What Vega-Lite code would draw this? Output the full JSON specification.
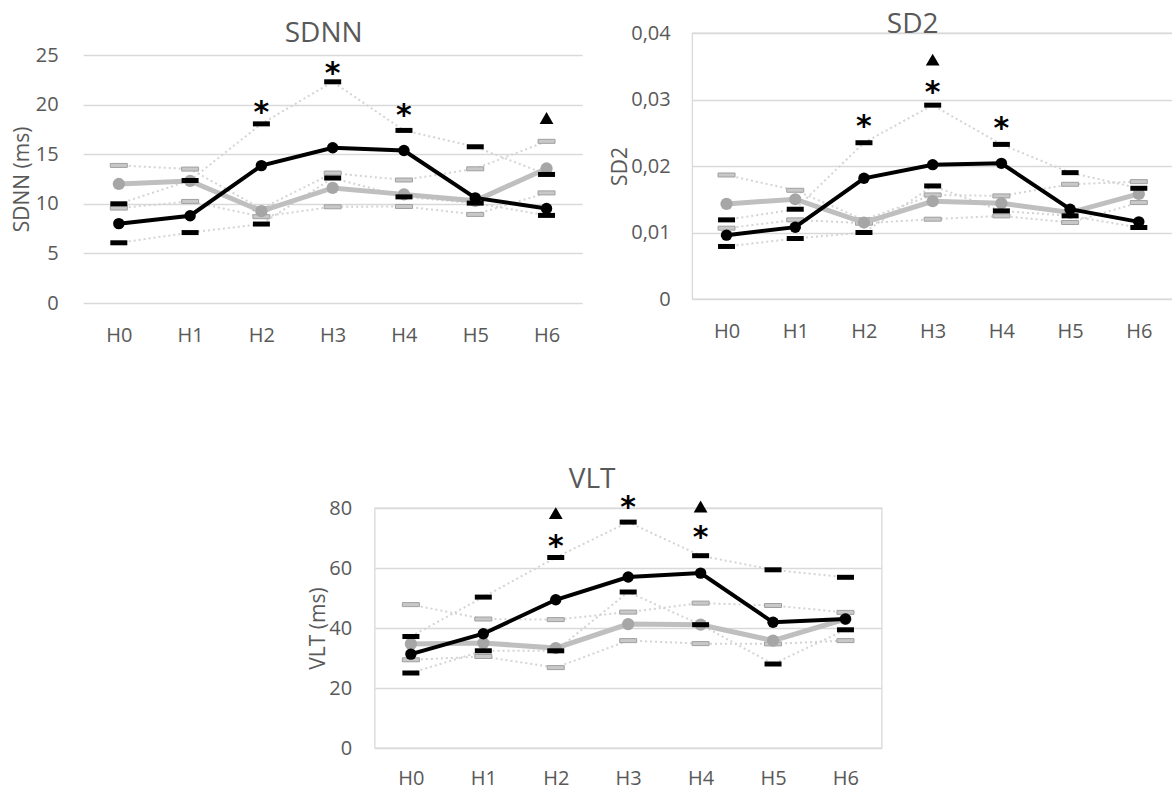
{
  "$schema": "https://vega.github.io/schema/vega-lite/v6.json",
  "background": "white",
  "padding": {"left": 11, "top": 10, "right": 0, "bottom": 0},
  "config": {
    "view": {"stroke": null},
    "font": "Open Sans",
    "axis": {"labelFont": "Open Sans", "titleFont": "Open Sans", "labelColor": "#595959", "titleColor": "#595959", "titleFontWeight": "normal", "labelFontSize": 20, "titleFontSize": 21, "domain": false, "ticks": false, "gridColor": "#d9d9d9", "gridWidth": 1.3},
    "axisX": {"grid": false, "labelAngle": 0, "labelPadding": 22},
    "axisY": {"labelPadding": 24, "titlePadding": 3},
    "title": {"font": "Open Sans", "fontSize": 28, "fontWeight": "normal", "color": "#595959", "anchor": "middle", "frame": "group"}
  },
  "datasets": {
    "main": [
      {"p":"SDNN","h":"H0","black":8.0,"gray":12.0,"bHi":10.0,"bLo":6.07,"gHi":13.87,"gLo":9.57},
      {"p":"SDNN","h":"H1","black":8.8,"gray":12.3,"bHi":12.35,"bLo":7.1,"gHi":13.5,"gLo":10.24},
      {"p":"SDNN","h":"H2","black":13.85,"gray":9.26,"bHi":18.06,"bLo":7.96,"gHi":9.5,"gLo":8.7},
      {"p":"SDNN","h":"H3","black":15.65,"gray":11.6,"bHi":22.3,"bLo":12.6,"gHi":13.1,"gLo":9.7},
      {"p":"SDNN","h":"H4","black":15.37,"gray":10.95,"bHi":17.4,"bLo":10.7,"gHi":12.4,"gLo":9.73},
      {"p":"SDNN","h":"H5","black":10.6,"gray":10.3,"bHi":15.75,"bLo":10.07,"gHi":13.53,"gLo":8.93},
      {"p":"SDNN","h":"H6","black":9.53,"gray":13.56,"bHi":12.96,"bLo":8.83,"gHi":16.3,"gLo":11.1},
      {"p":"SD2","h":"H0","black":0.0096,"gray":0.0143,"bHi":0.0119,"bLo":0.0079,"gHi":0.01865,"gLo":0.01065},
      {"p":"SD2","h":"H1","black":0.0108,"gray":0.0150,"bHi":0.0135,"bLo":0.0091,"gHi":0.01635,"gLo":0.0119},
      {"p":"SD2","h":"H2","black":0.01815,"gray":0.0115,"bHi":0.0235,"bLo":0.0100,"gHi":0.0119,"gLo":0.0114},
      {"p":"SD2","h":"H3","black":0.0202,"gray":0.0147,"bHi":0.02915,"bLo":0.0170,"gHi":0.01565,"gLo":0.0120},
      {"p":"SD2","h":"H4","black":0.0204,"gray":0.0144,"bHi":0.02325,"bLo":0.01325,"gHi":0.0155,"gLo":0.0125},
      {"p":"SD2","h":"H5","black":0.0135,"gray":0.0130,"bHi":0.0190,"bLo":0.0125,"gHi":0.01725,"gLo":0.0115},
      {"p":"SD2","h":"H6","black":0.0116,"gray":0.0158,"bHi":0.01665,"bLo":0.01075,"gHi":0.01765,"gLo":0.0145},
      {"p":"VLT","h":"H0","black":31.3,"gray":34.7,"bHi":37.2,"bLo":25.0,"gHi":47.8,"gLo":29.4},
      {"p":"VLT","h":"H1","black":38.1,"gray":35.0,"bHi":50.3,"bLo":32.4,"gHi":43.0,"gLo":30.5},
      {"p":"VLT","h":"H2","black":49.4,"gray":33.3,"bHi":63.5,"bLo":32.4,"gHi":42.8,"gLo":26.8},
      {"p":"VLT","h":"H3","black":57.0,"gray":41.3,"bHi":75.3,"bLo":52.0,"gHi":45.3,"gLo":35.8},
      {"p":"VLT","h":"H4","black":58.3,"gray":41.1,"bHi":64.1,"bLo":41.1,"gHi":48.3,"gLo":34.8},
      {"p":"VLT","h":"H5","black":41.9,"gray":35.8,"bHi":59.4,"bLo":28.0,"gHi":47.5,"gLo":34.7},
      {"p":"VLT","h":"H6","black":43.0,"gray":43.0,"bHi":56.9,"bLo":39.4,"gHi":45.2,"gLo":35.8}
    ],
    "ann": [
      {"p":"SDNN","h":"H2","s":"ast","v":20.0},
      {"p":"SDNN","h":"H3","s":"ast","v":23.9},
      {"p":"SDNN","h":"H4","s":"ast","v":19.7},
      {"p":"SDNN","h":"H6","s":"tri","v":18.66},
      {"p":"SD2","h":"H2","s":"ast","v":0.027},
      {"p":"SD2","h":"H3","s":"ast","v":0.03225},
      {"p":"SD2","h":"H4","s":"ast","v":0.02675},
      {"p":"SD2","h":"H3","s":"tri","v":0.036},
      {"p":"VLT","h":"H2","s":"ast","v":69.7},
      {"p":"VLT","h":"H3","s":"ast","v":82.8},
      {"p":"VLT","h":"H4","s":"ast","v":72.8},
      {"p":"VLT","h":"H2","s":"tri","v":78.3},
      {"p":"VLT","h":"H4","s":"tri","v":80.5}
    ]
  },
  "center": true,
  "spacing": 119,
  "vconcat": [
    {
      "spacing": 26,
      "hconcat": [
        {
          "width": 499, "height": 270,
          "title": {"text": "SDNN", "dx": -9, "offset": -15},
          "data": {"name": "main"},
          "transform": [{"filter": "datum.p == 'SDNN'"}, {"fold": ["black","gray","bHi","bLo","gHi","gLo"], "as": ["s","v"]}],
          "encoding": {
            "x": {"field": "h", "type": "ordinal", "scale": {"type": "point", "padding": 0.5, "domain": ["H0","H1","H2","H3","H4","H5","H6"]}, "axis": {"title": null}},
            "y": {"field": "v", "type": "quantitative", "scale": {"domain": [0, 27.22], "nice": false}, "axis": {"values": [0,5,10,15,20,25], "title": "SDNN (ms)", "titlePadding": 3, "labelPadding": 25, "titleY": 146}}
          },
          "layer": [
            {"transform": [{"filter": "indexof(['bHi','bLo','gHi','gLo'], datum.s) >= 0"}], "mark": {"type": "line", "color": "#d4d4d4", "strokeWidth": 2, "strokeDash": [2, 3]}, "encoding": {"detail": {"field": "s"}}},
            {"transform": [{"filter": "datum.s == 'gHi' || datum.s == 'gLo'"}], "mark": {"type": "tick", "orient": "horizontal", "size": 17, "thickness": 4, "color": "#c8c8c8", "stroke": "#a0a0a0", "strokeWidth": 1, "opacity": 1}},
            {"transform": [{"filter": "datum.s == 'gray'"}], "mark": {"type": "line", "color": "#bfbfbf", "strokeWidth": 5, "point": {"filled": true, "color": "#a6a6a6", "size": 150, "opacity": 1}}},
            {"transform": [{"filter": "datum.s == 'black'"}], "mark": {"type": "line", "color": "#000000", "strokeWidth": 4, "point": {"filled": true, "color": "#000000", "size": 130, "opacity": 1}}},
            {"transform": [{"filter": "datum.s == 'bHi' || datum.s == 'bLo'"}], "mark": {"type": "tick", "orient": "horizontal", "size": 17, "thickness": 5, "color": "#000000", "opacity": 1}},
            {"data": {"name": "ann"}, "transform": [{"filter": "datum.p == 'SDNN' && datum.s == 'ast'"}], "mark": {"type": "text", "text": "*", "font": "DejaVu Sans", "fontSize": 30, "fontWeight": "bold", "color": "#000000", "baseline": "middle", "dy": 8}},
            {"data": {"name": "ann"}, "transform": [{"filter": "datum.p == 'SDNN' && datum.s == 'tri'"}], "mark": {"type": "point", "shape": "triangle-up", "filled": true, "color": "#000000", "size": 190, "opacity": 1}}
          ]
        },
        {
          "width": 481, "height": 266,
          "title": {"text": "SD2", "dx": -20, "offset": -16},
          "view": {"stroke": "#d9d9d9", "strokeWidth": 1.3},
          "data": {"name": "main"},
          "transform": [{"filter": "datum.p == 'SD2'"}, {"fold": ["black","gray","bHi","bLo","gHi","gLo"], "as": ["s","v"]}],
          "encoding": {
            "x": {"field": "h", "type": "ordinal", "scale": {"type": "point", "padding": 0.5, "domain": ["H0","H1","H2","H3","H4","H5","H6"]}, "axis": {"title": null}},
            "y": {"field": "v", "type": "quantitative", "scale": {"domain": [0, 0.04], "nice": false}, "axis": {"values": [0,0.01,0.02,0.03,0.04], "labelExpr": "replace(format(datum.value, '.2~f'), '.', ',')", "title": "SD2", "titlePadding": 0, "labelPadding": 22}}
          },
          "layer": [
            {"transform": [{"filter": "indexof(['bHi','bLo','gHi','gLo'], datum.s) >= 0"}], "mark": {"type": "line", "color": "#d4d4d4", "strokeWidth": 2, "strokeDash": [2, 3]}, "encoding": {"detail": {"field": "s"}}},
            {"transform": [{"filter": "datum.s == 'gHi' || datum.s == 'gLo'"}], "mark": {"type": "tick", "orient": "horizontal", "size": 17, "thickness": 4, "color": "#c8c8c8", "stroke": "#a0a0a0", "strokeWidth": 1, "opacity": 1}},
            {"transform": [{"filter": "datum.s == 'gray'"}], "mark": {"type": "line", "color": "#bfbfbf", "strokeWidth": 5, "point": {"filled": true, "color": "#a6a6a6", "size": 150, "opacity": 1}}},
            {"transform": [{"filter": "datum.s == 'black'"}], "mark": {"type": "line", "color": "#000000", "strokeWidth": 4, "point": {"filled": true, "color": "#000000", "size": 130, "opacity": 1}}},
            {"transform": [{"filter": "datum.s == 'bHi' || datum.s == 'bLo'"}], "mark": {"type": "tick", "orient": "horizontal", "size": 17, "thickness": 5, "color": "#000000", "opacity": 1}},
            {"data": {"name": "ann"}, "transform": [{"filter": "datum.p == 'SD2' && datum.s == 'ast'"}], "mark": {"type": "text", "text": "*", "font": "DejaVu Sans", "fontSize": 30, "fontWeight": "bold", "color": "#000000", "baseline": "middle", "dy": 8}},
            {"data": {"name": "ann"}, "transform": [{"filter": "datum.p == 'SD2' && datum.s == 'tri'"}], "mark": {"type": "point", "shape": "triangle-up", "filled": true, "color": "#000000", "size": 190, "opacity": 1}}
          ]
        }
      ]
    },
    {
      "width": 507, "height": 240,
      "title": {"text": "VLT", "dx": -36, "offset": -1},
      "view": {"stroke": "#d9d9d9", "strokeWidth": 1.3},
      "data": {"name": "main"},
      "transform": [{"filter": "datum.p == 'VLT'"}, {"fold": ["black","gray","bHi","bLo","gHi","gLo"], "as": ["s","v"]}],
      "encoding": {
        "x": {"field": "h", "type": "ordinal", "scale": {"type": "point", "padding": 0.5, "domain": ["H0","H1","H2","H3","H4","H5","H6"]}, "axis": {"title": null, "labelPadding": 20}},
        "y": {"field": "v", "type": "quantitative", "scale": {"domain": [0, 80], "nice": false}, "axis": {"values": [0,20,40,60,80], "title": "VLT (ms)", "titlePadding": 0, "labelPadding": 23}}
      },
      "layer": [
        {"transform": [{"filter": "indexof(['bHi','bLo','gHi','gLo'], datum.s) >= 0"}], "mark": {"type": "line", "color": "#d4d4d4", "strokeWidth": 2, "strokeDash": [2, 3]}, "encoding": {"detail": {"field": "s"}}},
        {"transform": [{"filter": "datum.s == 'gHi' || datum.s == 'gLo'"}], "mark": {"type": "tick", "orient": "horizontal", "size": 17, "thickness": 4, "color": "#c8c8c8", "stroke": "#a0a0a0", "strokeWidth": 1, "opacity": 1}},
        {"transform": [{"filter": "datum.s == 'gray'"}], "mark": {"type": "line", "color": "#bfbfbf", "strokeWidth": 5, "point": {"filled": true, "color": "#a6a6a6", "size": 150, "opacity": 1}}},
        {"transform": [{"filter": "datum.s == 'black'"}], "mark": {"type": "line", "color": "#000000", "strokeWidth": 4, "point": {"filled": true, "color": "#000000", "size": 130, "opacity": 1}}},
        {"transform": [{"filter": "datum.s == 'bHi' || datum.s == 'bLo'"}], "mark": {"type": "tick", "orient": "horizontal", "size": 17, "thickness": 5, "color": "#000000", "opacity": 1}},
        {"data": {"name": "ann"}, "transform": [{"filter": "datum.p == 'VLT' && datum.s == 'ast'"}], "mark": {"type": "text", "text": "*", "font": "DejaVu Sans", "fontSize": 30, "fontWeight": "bold", "color": "#000000", "baseline": "middle", "dy": 8}},
        {"data": {"name": "ann"}, "transform": [{"filter": "datum.p == 'VLT' && datum.s == 'tri'"}], "mark": {"type": "point", "shape": "triangle-up", "filled": true, "color": "#000000", "size": 190, "opacity": 1}}
      ]
    }
  ]
}
